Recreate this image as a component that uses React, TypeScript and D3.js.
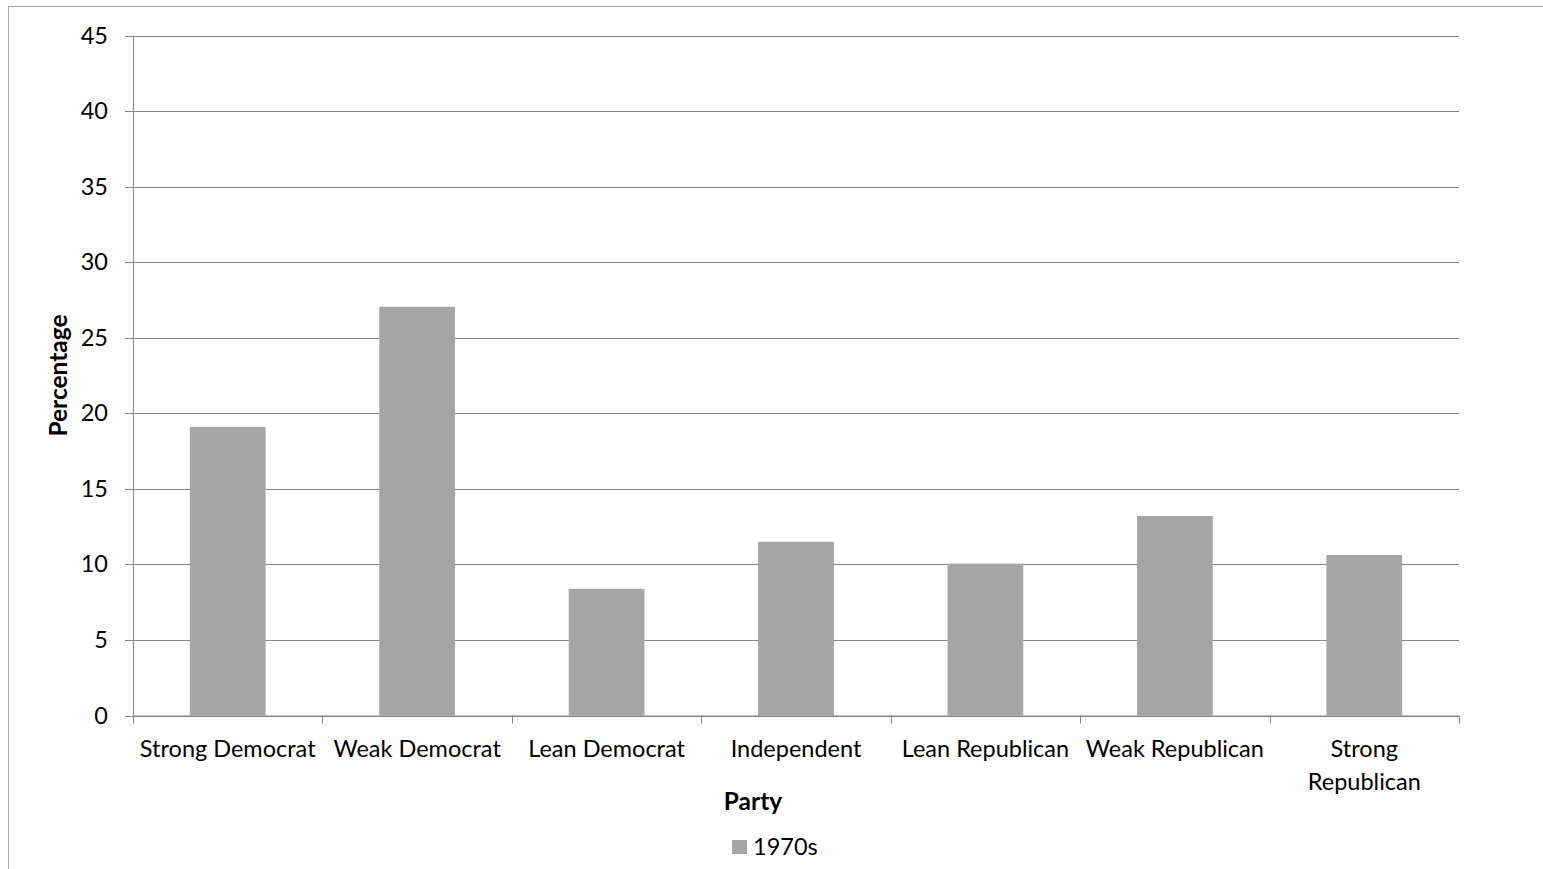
import React from "react";
import * as d3 from "d3";

const categories: string[][] = [
  ["Strong Democrat"],
  ["Weak Democrat"],
  ["Lean Democrat"],
  ["Independent"],
  ["Lean Republican"],
  ["Weak Republican"],
  ["Strong", "Republican"],
];
const values1970s: number[] = [19.1, 27.05, 8.38, 11.5, 10.05, 13.2, 10.62];
const yTicks: number[] = [0, 5, 10, 15, 20, 25, 30, 35, 40, 45];
const seriesName = "1970s";

const W = 1543;
const H = 869;
const left = 133;
const right = 1459;
const top = 35.5;
const bottom = 715.5;
const FONT = "Lato, 'Open Sans', sans-serif";
const FS = 23.5;
const FSB = 24.5;

export default function App() {
  const x = d3
    .scaleBand<number>()
    .domain(categories.map((_, i) => i))
    .range([left, right])
    .paddingInner(0.6)
    .paddingOuter(0.3);
  const xc = d3
    .scaleBand<number>()
    .domain(categories.map((_, i) => i))
    .range([left, right]);
  const y = d3.scaleLinear().domain([0, 45]).range([bottom, top]);

  return (
    <svg
      width={W}
      height={H}
      style={{ position: "fixed", left: 0, top: 0, display: "block", background: "#fff" }}
      fontFamily={FONT}
    >
      <rect x={8.5} y={6.5} width={W} height={H} fill="#fff" stroke="#a6a6a6" strokeWidth={1} />
      {yTicks.map((t) => (
        <g key={t}>
          <line
            x1={125}
            x2={right}
            y1={Math.round(y(t)) + 0.5}
            y2={Math.round(y(t)) + 0.5}
            stroke="#868686"
            strokeWidth={1}
          />
          <text x={108} y={y(t) + 8} textAnchor="end" fontSize={FS} fill="#000">
            {t}
          </text>
        </g>
      ))}
      {values1970s.map((v, i) => (
        <rect
          key={i}
          x={x(i)}
          y={y(v)}
          width={x.bandwidth()}
          height={y(0) - y(v)}
          fill="#a5a5a5"
        />
      ))}
      <line x1={left + 0.5} x2={left + 0.5} y1={top} y2={bottom} stroke="#868686" />
      <line x1={left} x2={right} y1={bottom + 0.5} y2={bottom + 0.5} stroke="#868686" />
      {d3.range(categories.length + 1).map((i) => {
        const xx = Math.round(left + i * xc.step()) + 0.5;
        return <line key={i} x1={xx} x2={xx} y1={bottom} y2={bottom + 8} stroke="#868686" />;
      })}
      {categories.map((lines, i) => (
        <text
          key={i}
          x={(xc(i) as number) + xc.bandwidth() / 2}
          y={757}
          textAnchor="middle"
          fontSize={FS}
          fill="#000"
        >
          {lines.map((l, j) => (
            <tspan key={j} x={(xc(i) as number) + xc.bandwidth() / 2} dy={j === 0 ? 0 : 33}>
              {l}
            </tspan>
          ))}
        </text>
      ))}
      <text x={753} y={810} textAnchor="middle" fontSize={FSB} fontWeight="bold" fill="#000">
        Party
      </text>
      <text
        transform={`translate(67,${(top + bottom) / 2}) rotate(-90)`}
        textAnchor="middle"
        fontSize={FSB}
        fontWeight="bold"
        fill="#000"
      >
        Percentage
      </text>
      <rect x={732} y={840} width={15} height={14} fill="#a5a5a5" />
      <text x={753} y={855} fontSize={FS} fill="#000">
        {seriesName}
      </text>
    </svg>
  );
}
